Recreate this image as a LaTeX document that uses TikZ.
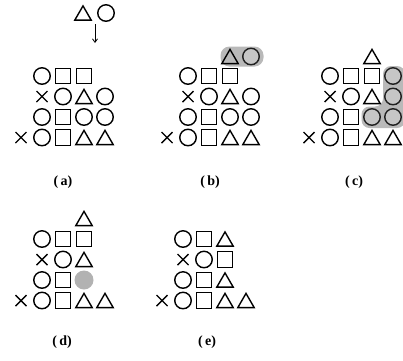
\documentclass[tikz,border=0pt]{standalone}
\usepackage{fontspec}
\setmainfont{Liberation Serif}
\usetikzlibrary{shapes.geometric,shapes.misc,arrows.meta}
\tikzset{
  shp/.style={draw, line width=1.4pt, inner sep=0pt, outer sep=0pt},
  cir/.style={shp, circle, minimum size=16.5pt},
  sqr/.style={shp, rectangle, minimum size=15.5pt},
  tri/.style={shp, regular polygon, regular polygon sides=3, minimum size=19pt, yshift=-2.4pt},
  crs/.style={shp, cross out, minimum size=11pt},
  shade/.style={fill=gray!55, draw=none},
  gcir/.style={cir, draw=gray!25!black, fill=gray!45},
  sdisk/.style={circle, fill=gray!60, draw=none, minimum size=19pt, inner sep=0pt},
  lab/.style={font=\fontsize{14}{16}\selectfont\bfseries, inner sep=0pt},
}
\newcommand{\putshape}[4]{\node[#2] (#1) at ({#3},{#4}) {};}
\begin{document}
\begin{tikzpicture}[x=1pt,y=-1pt]
\useasboundingbox (0,0) rectangle (403,360);
\def\dx{21}
% ---------- panel (a) ----------
\def\xo{21}\def\ya{76}\def\yb{96.5}\def\yc{117}\def\yd{137.5}
\putshape{a11}{cir}{\xo+1*\dx}{\ya}
\putshape{a12}{sqr}{\xo+2*\dx}{\ya}
\putshape{a13}{sqr}{\xo+3*\dx}{\ya}
\putshape{a21}{crs}{\xo+1*\dx}{\yb}
\putshape{a22}{cir}{\xo+2*\dx}{\yb}
\putshape{a23}{tri}{\xo+3*\dx}{\yb}
\putshape{a24}{cir}{\xo+4*\dx}{\yb}
\putshape{a31}{cir}{\xo+1*\dx}{\yc}
\putshape{a32}{sqr}{\xo+2*\dx}{\yc}
\putshape{a33}{cir}{\xo+3*\dx}{\yc}
\putshape{a34}{cir}{\xo+4*\dx}{\yc}
\putshape{a40}{crs}{\xo+0*\dx}{\yd}
\putshape{a41}{cir}{\xo+1*\dx}{\yd}
\putshape{a42}{sqr}{\xo+2*\dx}{\yd}
\putshape{a43}{tri}{\xo+3*\dx}{\yd}
\putshape{a44}{tri}{\xo+4*\dx}{\yd}
\putshape{atopt}{tri}{83}{13}
\putshape{atopc}{cir}{106}{13}
\coordinate (arrS) at (95,24);
\coordinate (arrE) at (95,43);
\draw[line width=0.8pt, -{Straight Barb[length=3.5pt,width=5pt]}] (arrS) -- (arrE);
\node[lab] (la) at (63,182) {(\,a)};
% ---------- panel (b) ----------
\def\xo{167}
\node[shade, rounded corners=9pt, minimum width=43pt, minimum height=20pt, inner sep=0pt] (bblob) at (242,56.5) {};
\putshape{b03}{tri}{\xo+3*\dx}{56.5}
\putshape{b04}{gcir}{\xo+4*\dx}{56.5}
\putshape{b11}{cir}{\xo+1*\dx}{\ya}
\putshape{b12}{sqr}{\xo+2*\dx}{\ya}
\putshape{b13}{sqr}{\xo+3*\dx}{\ya}
\putshape{b21}{crs}{\xo+1*\dx}{\yb}
\putshape{b22}{cir}{\xo+2*\dx}{\yb}
\putshape{b23}{tri}{\xo+3*\dx}{\yb}
\putshape{b24}{cir}{\xo+4*\dx}{\yb}
\putshape{b31}{cir}{\xo+1*\dx}{\yc}
\putshape{b32}{sqr}{\xo+2*\dx}{\yc}
\putshape{b33}{cir}{\xo+3*\dx}{\yc}
\putshape{b34}{cir}{\xo+4*\dx}{\yc}
\putshape{b40}{crs}{\xo+0*\dx}{\yd}
\putshape{b41}{cir}{\xo+1*\dx}{\yd}
\putshape{b42}{sqr}{\xo+2*\dx}{\yd}
\putshape{b43}{tri}{\xo+3*\dx}{\yd}
\putshape{b44}{tri}{\xo+4*\dx}{\yd}
\node[lab] (lb) at (210,182) {(\,b)};
% ---------- panel (c) ----------
\def\xo{309}
\fill[gray!55, rounded corners=8pt] (383,66) -- (405,66) -- (405,128) -- (361.5,128) -- (361.5,106.5) -- (383,106.5) -- cycle;
\putshape{c03}{tri}{\xo+3*\dx}{56.5}
\putshape{c11}{cir}{\xo+1*\dx}{\ya}
\putshape{c12}{sqr}{\xo+2*\dx}{\ya}
\putshape{c13}{sqr}{\xo+3*\dx}{\ya}
\putshape{c14}{gcir}{\xo+4*\dx}{\ya}
\putshape{c21}{crs}{\xo+1*\dx}{\yb}
\putshape{c22}{cir}{\xo+2*\dx}{\yb}
\putshape{c23}{tri}{\xo+3*\dx}{\yb}
\putshape{c24}{gcir}{\xo+4*\dx}{\yb}
\putshape{c31}{cir}{\xo+1*\dx}{\yc}
\putshape{c32}{sqr}{\xo+2*\dx}{\yc}
\putshape{c33}{gcir}{\xo+3*\dx}{\yc}
\putshape{c34}{gcir}{\xo+4*\dx}{\yc}
\putshape{c40}{crs}{\xo+0*\dx}{\yd}
\putshape{c41}{cir}{\xo+1*\dx}{\yd}
\putshape{c42}{sqr}{\xo+2*\dx}{\yd}
\putshape{c43}{tri}{\xo+3*\dx}{\yd}
\putshape{c44}{tri}{\xo+4*\dx}{\yd}
\node[lab] (lc) at (354,182) {(\,c)};
% ---------- panel (d) ----------
\def\xo{21}\def\yz{218.5}\def\ya{239}\def\yb{259.5}\def\yc{280}\def\yd{300.5}
\putshape{d03}{tri}{\xo+3*\dx}{\yz}
\putshape{d11}{cir}{\xo+1*\dx}{\ya}
\putshape{d12}{sqr}{\xo+2*\dx}{\ya}
\putshape{d13}{sqr}{\xo+3*\dx}{\ya}
\putshape{d21}{crs}{\xo+1*\dx}{\yb}
\putshape{d22}{cir}{\xo+2*\dx}{\yb}
\putshape{d23}{tri}{\xo+3*\dx}{\yb}
\putshape{d31}{cir}{\xo+1*\dx}{\yc}
\putshape{d32}{sqr}{\xo+2*\dx}{\yc}
\putshape{d33}{sdisk}{\xo+3*\dx}{\yc}
\putshape{d40}{crs}{\xo+0*\dx}{\yd}
\putshape{d41}{cir}{\xo+1*\dx}{\yd}
\putshape{d42}{sqr}{\xo+2*\dx}{\yd}
\putshape{d43}{tri}{\xo+3*\dx}{\yd}
\putshape{d44}{tri}{\xo+4*\dx}{\yd}
\node[lab] (ld) at (62,342) {(\,d)};
% ---------- panel (e) ----------
\def\xo{162}
\putshape{e11}{cir}{\xo+1*\dx}{\ya}
\putshape{e12}{sqr}{\xo+2*\dx}{\ya}
\putshape{e13}{tri}{\xo+3*\dx}{\ya}
\putshape{e21}{crs}{\xo+1*\dx}{\yb}
\putshape{e22}{cir}{\xo+2*\dx}{\yb}
\putshape{e23}{sqr}{\xo+3*\dx}{\yb}
\putshape{e31}{cir}{\xo+1*\dx}{\yc}
\putshape{e32}{sqr}{\xo+2*\dx}{\yc}
\putshape{e33}{tri}{\xo+3*\dx}{\yc}
\putshape{e40}{crs}{\xo+0*\dx}{\yd}
\putshape{e41}{cir}{\xo+1*\dx}{\yd}
\putshape{e42}{sqr}{\xo+2*\dx}{\yd}
\putshape{e43}{tri}{\xo+3*\dx}{\yd}
\putshape{e44}{tri}{\xo+4*\dx}{\yd}
\node[lab] (le) at (207,342) {(\,e)};
\end{tikzpicture}
\end{document}
